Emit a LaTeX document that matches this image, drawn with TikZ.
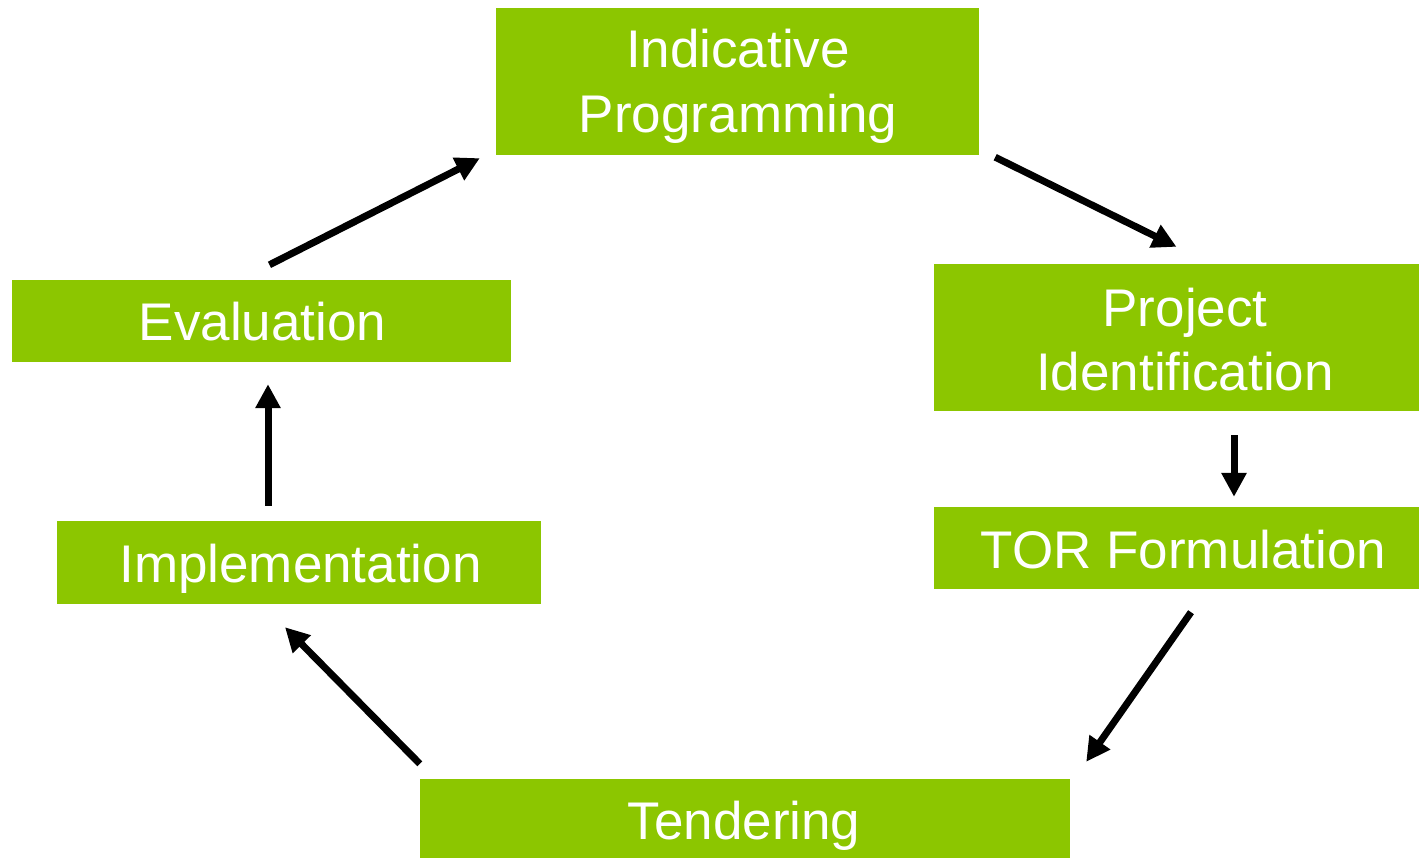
\documentclass[tikz,border=0pt]{standalone}
\usepackage{fontspec}
\setmainfont{Liberation Sans}
\usetikzlibrary{arrows.meta}
\definecolor{boxgreen}{RGB}{140,198,0}
\tikzset{
  box/.style={fill=boxgreen, draw=none, inner sep=0pt},
  lbl/.style={anchor=base, inner sep=0pt, text=white, font=\fontsize{53}{64}\selectfont},
  conn/.style={line width=7pt, draw=black, -{Triangle[length=24pt,width=24pt]}}
}
\begin{document}
\begin{tikzpicture}[x=1pt,y=-1pt]
\useasboundingbox (0,0) rectangle (1419,859);
\node[box, minimum width=483pt, minimum height=147pt] (ip) at (737.5,81.5) {};
\node[box, minimum width=485pt, minimum height=147pt] (pi) at (1176.5,337.5) {};
\node[box, minimum width=485pt, minimum height=82pt] (tor) at (1176.5,548) {};
\node[box, minimum width=650pt, minimum height=79pt] (tn) at (745,818.5) {};
\node[box, minimum width=484pt, minimum height=83pt] (im) at (299,562.5) {};
\node[box, minimum width=499pt, minimum height=82pt] (ev) at (261.5,321) {};
\node[lbl] (ip1) at (738,68) {Indicative};
\node[lbl] (ip2) at (738,132) {Programming};
\node[lbl] (pi1) at (1185,326) {Project};
\node[lbl] (pi2) at (1185,390) {Identification};
\node[lbl] (torl) at (1183.5,568) {TOR Formulation};
\node[lbl] (tnl) at (744,839) {Tendering};
\node[lbl] (iml) at (300.5,582) {Implementation};
\node[lbl] (evl) at (262.5,340) {Evaluation};
\draw[conn] ([shift={(8,-15)}]ev.north) -- ([shift={(-16,3)}]ip.south west);
\draw[conn] ([shift={(16,2)}]ip.south east) -- ([shift={(0,-17)}]pi.north);
\draw[conn] ([shift={(57.5,24)}]pi.south) -- ([shift={(57.5,-10)}]tor.north);
\draw[conn] ([shift={(14.5,23)}]tor.south) -- ([shift={(16,-17)}]tn.north east);
\draw[conn] ([shift={(0,-15)}]tn.north west) -- ([shift={(-14,23)}]im.south);
\draw[conn] ([shift={(-31,-15)}]im.north) -- ([shift={(6.5,22)}]ev.south);
\end{tikzpicture}
\end{document}
